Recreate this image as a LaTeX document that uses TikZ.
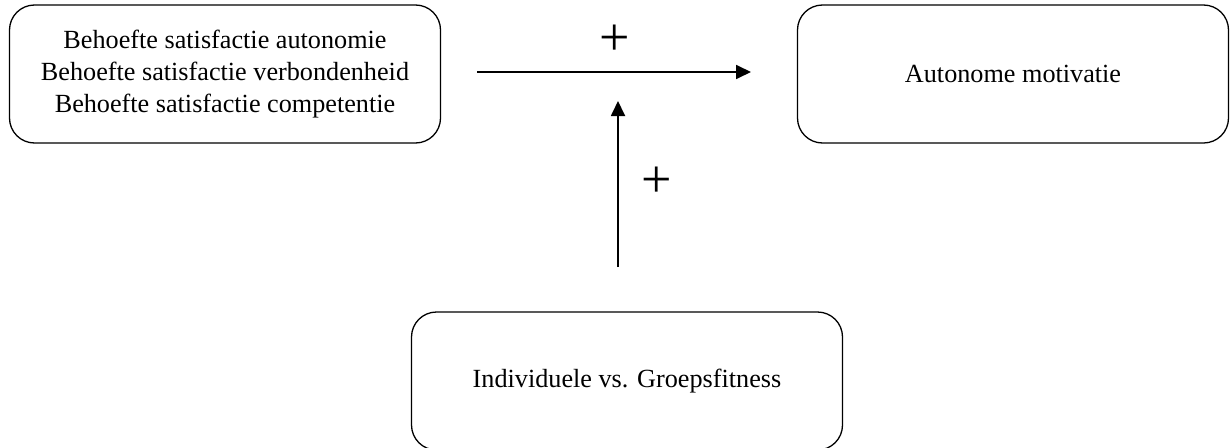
\documentclass[tikz,border=0pt]{standalone}
\usepackage{fontspec}
\setmainfont{Liberation Serif}
\usetikzlibrary{arrows.meta}
\tikzset{
  box/.style={draw, line width=1.3pt, rounded corners=25pt, minimum width=431pt, minimum height=138pt,
    align=center, inner sep=0pt, font=\fontsize{26.2}{32}\selectfont},
  conn/.style={line width=1.8pt, -{Triangle[length=15pt,width=14pt]}},
  plus/.style={inner sep=0pt, font=\fontsize{54}{54}\selectfont}
}
\begin{document}
\begin{tikzpicture}[x=1pt,y=-1pt]
\useasboundingbox (0,0) rectangle (1230,447);
\node[box] (need) at (225,74) {Behoefte satisfactie autonomie\\Behoefte satisfactie verbondenheid\\Behoefte satisfactie competentie};
\node[box] (mot) at (1013,74) {Autonome motivatie};
\node[box] (fit) at (627,381) {Individuele vs. Groepsfitness};
\coordinate (hs) at (477,72);
\coordinate (he) at (751,72);
\coordinate (vs) at (618,267);
\coordinate (ve) at (618,101);
\draw[conn] (hs) -- (he);
\draw[conn] (vs) -- (ve);
\node[plus] (p1) at (615,40) {+};
\node[plus] (p2) at (657,182) {+};
\end{tikzpicture}
\end{document}
